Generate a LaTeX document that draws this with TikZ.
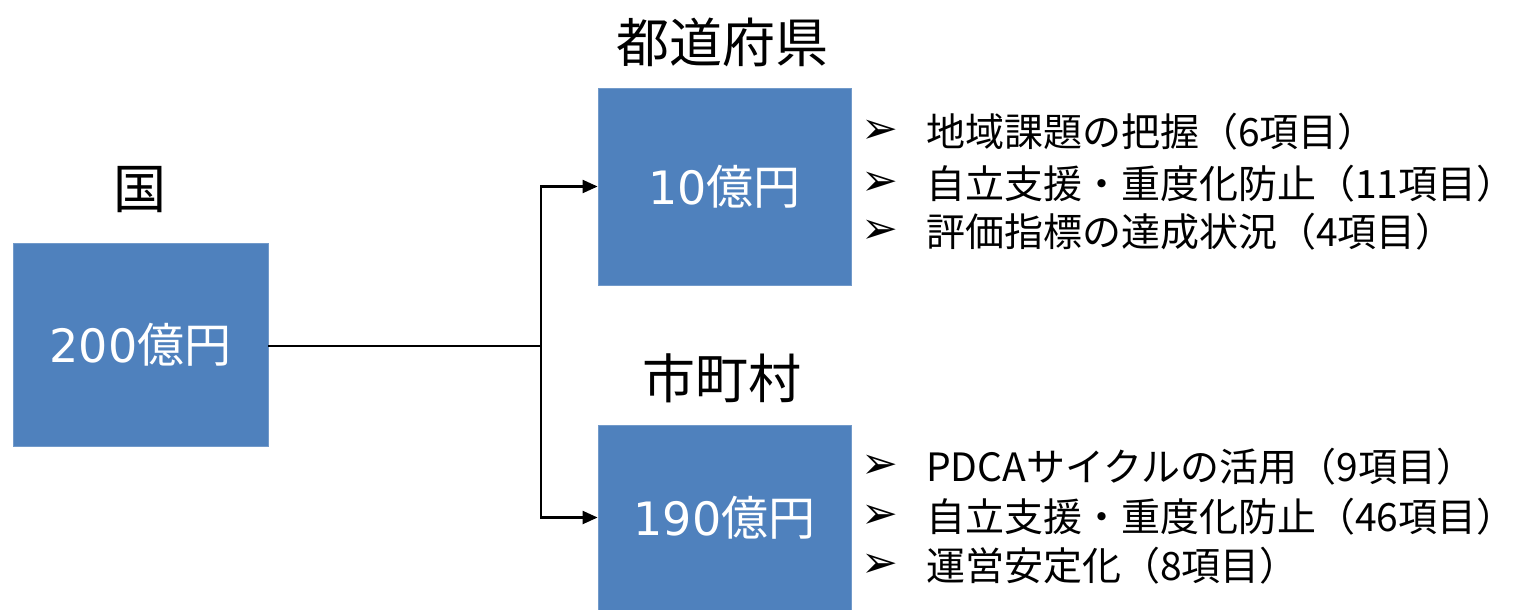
\documentclass[tikz,border=0pt]{standalone}
\usepackage{fontspec}
\setmainfont{Noto Sans CJK JP}
\newfontfamily\symfont{DejaVu Sans}
\newfontfamily\digitfont{DejaVu Sans}
\usetikzlibrary{arrows.meta}
\definecolor{boxblue}{HTML}{4F81BD}
\tikzset{
  bluebox/.style={fill=boxblue, draw=boxblue!80!white, line width=0.8bp, inner sep=0pt, text=white,
    font=\fontsize{47bp}{50bp}\selectfont},
  titlelabel/.style={inner sep=0pt, font=\fontsize{53bp}{56bp}\selectfont},
  itemtext/.style={inner sep=0pt, anchor=west, font=\fontsize{39bp}{43bp}\selectfont},
  bulletmark/.style={inner sep=0pt, font=\symfont\fontsize{44bp}{46bp}\selectfont},
  conn/.style={line width=2.2bp, draw=black},
  arrowconn/.style={conn, -{Triangle[length=15bp,width=13bp]}}
}
\begin{document}
\begin{tikzpicture}[x=1bp,y=-1bp]
\useasboundingbox (0,0) rectangle (1525,610);
% boxes
\node[bluebox, minimum width=255bp, minimum height=203bp] (guo) at (140.5,344.5) {{\digitfont\fontsize{46bp}{50bp}\selectfont 200}億円};
\node[bluebox, minimum width=253bp, minimum height=197bp] (pref) at (724.5,186.5) {{\digitfont\fontsize{46bp}{50bp}\selectfont 10}億円};
\node[bluebox, minimum width=253bp, minimum height=185bp] (muni) at (724.5,517.5) {{\digitfont\fontsize{46bp}{50bp}\selectfont 190}億円};
% titles
\node[titlelabel] (guolabel) at (140,190) {国};
\node[titlelabel] (preflabel) at (722,42) {都道府県};
\node[titlelabel] (munilabel) at (722,378) {市町村};
% connectors
\coordinate (j) at (541,346);
\draw[conn] (guo.east |- j) -- (j);
\draw[arrowconn] (j) |- (pref.west);
\draw[arrowconn] (j) |- (muni.west);
% prefecture items
\node[bulletmark] (b1) at (880,132) {➢};
\node[itemtext] (t1) at (926,132) {地域課題の把握（6項目）};
\node[bulletmark] (b2) at (880,184) {➢};
\node[itemtext] (t2) at (926,184) {自立支援・重度化防止（11項目）};
\node[bulletmark] (b3) at (880,232) {➢};
\node[itemtext] (t3) at (926,232) {評価指標の達成状況（4項目）};
% municipality items
\node[bulletmark] (b4) at (880,467) {➢};
\node[itemtext] (t4) at (926,467) {PDCAサイクルの活用（9項目）};
\node[bulletmark] (b5) at (880,517) {➢};
\node[itemtext] (t5) at (926,517) {自立支援・重度化防止（46項目）};
\node[bulletmark] (b6) at (880,566) {➢};
\node[itemtext] (t6) at (926,566) {運営安定化（8項目）};
\end{tikzpicture}
\end{document}
